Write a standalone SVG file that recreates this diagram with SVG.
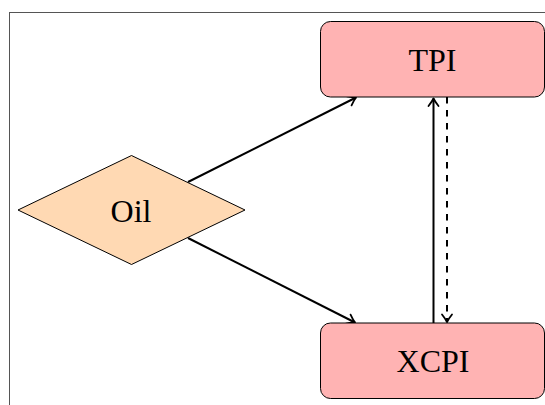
<svg xmlns="http://www.w3.org/2000/svg" width="545" height="405" viewBox="0 0 545 405">
<style>
.box{fill:#FFB3B3;stroke:#000;stroke-width:1}
.dia{fill:#FFD9B3;stroke:#000;stroke-width:1}
.lbl{font-size:32px;fill:#000;text-anchor:middle}
.edge{stroke:#000;stroke-width:2;fill:none;marker-end:url(#tip)}
.dash{stroke-dasharray:6.5 6.5}
</style>
<defs>
<marker id="tip" markerUnits="userSpaceOnUse" viewBox="-10 -7 12 14" refX="0" refY="0" markerWidth="12" markerHeight="14" orient="auto">
<path d="M-7.5,-5 Q-2.8,-1.3 0,0 Q-2.8,1.3 -7.5,5" fill="none" stroke="#000" stroke-width="1.8" stroke-linecap="round" stroke-linejoin="round"/>
</marker>
</defs>
<rect x="9.5" y="12.5" width="560" height="420" fill="#fff" stroke="#555" stroke-width="1"/>
<g id="connectors">
<line class="edge" x1="188" y1="182" x2="356" y2="97.5"/>
<line class="edge" x1="188" y1="238" x2="355" y2="322.5"/>
<line class="edge" x1="433.5" y1="323" x2="433.5" y2="98.5"/>
<line class="edge dash" x1="447" y1="97" x2="447" y2="322"/>
</g>
<g id="tpi">
<rect class="box" x="320.5" y="21.5" width="224" height="75.5" rx="10" ry="10"/>
<text class="lbl" font-family="'Liberation Serif', 'DejaVu Serif', serif" x="432.5" y="70.5">TPI</text>
</g>
<g id="xcpi">
<rect class="box" x="320.5" y="323" width="224" height="75.5" rx="10" ry="10"/>
<text class="lbl" font-family="'Liberation Serif', 'DejaVu Serif', serif" x="433" y="372">XCPI</text>
</g>
<g id="oil">
<polygon class="dia" points="131.5,155.5 245,210 131.5,264.5 18,210"/>
<text class="lbl" font-family="'Liberation Serif', 'DejaVu Serif', serif" x="131" y="222">Oil</text>
</g>
</svg>
